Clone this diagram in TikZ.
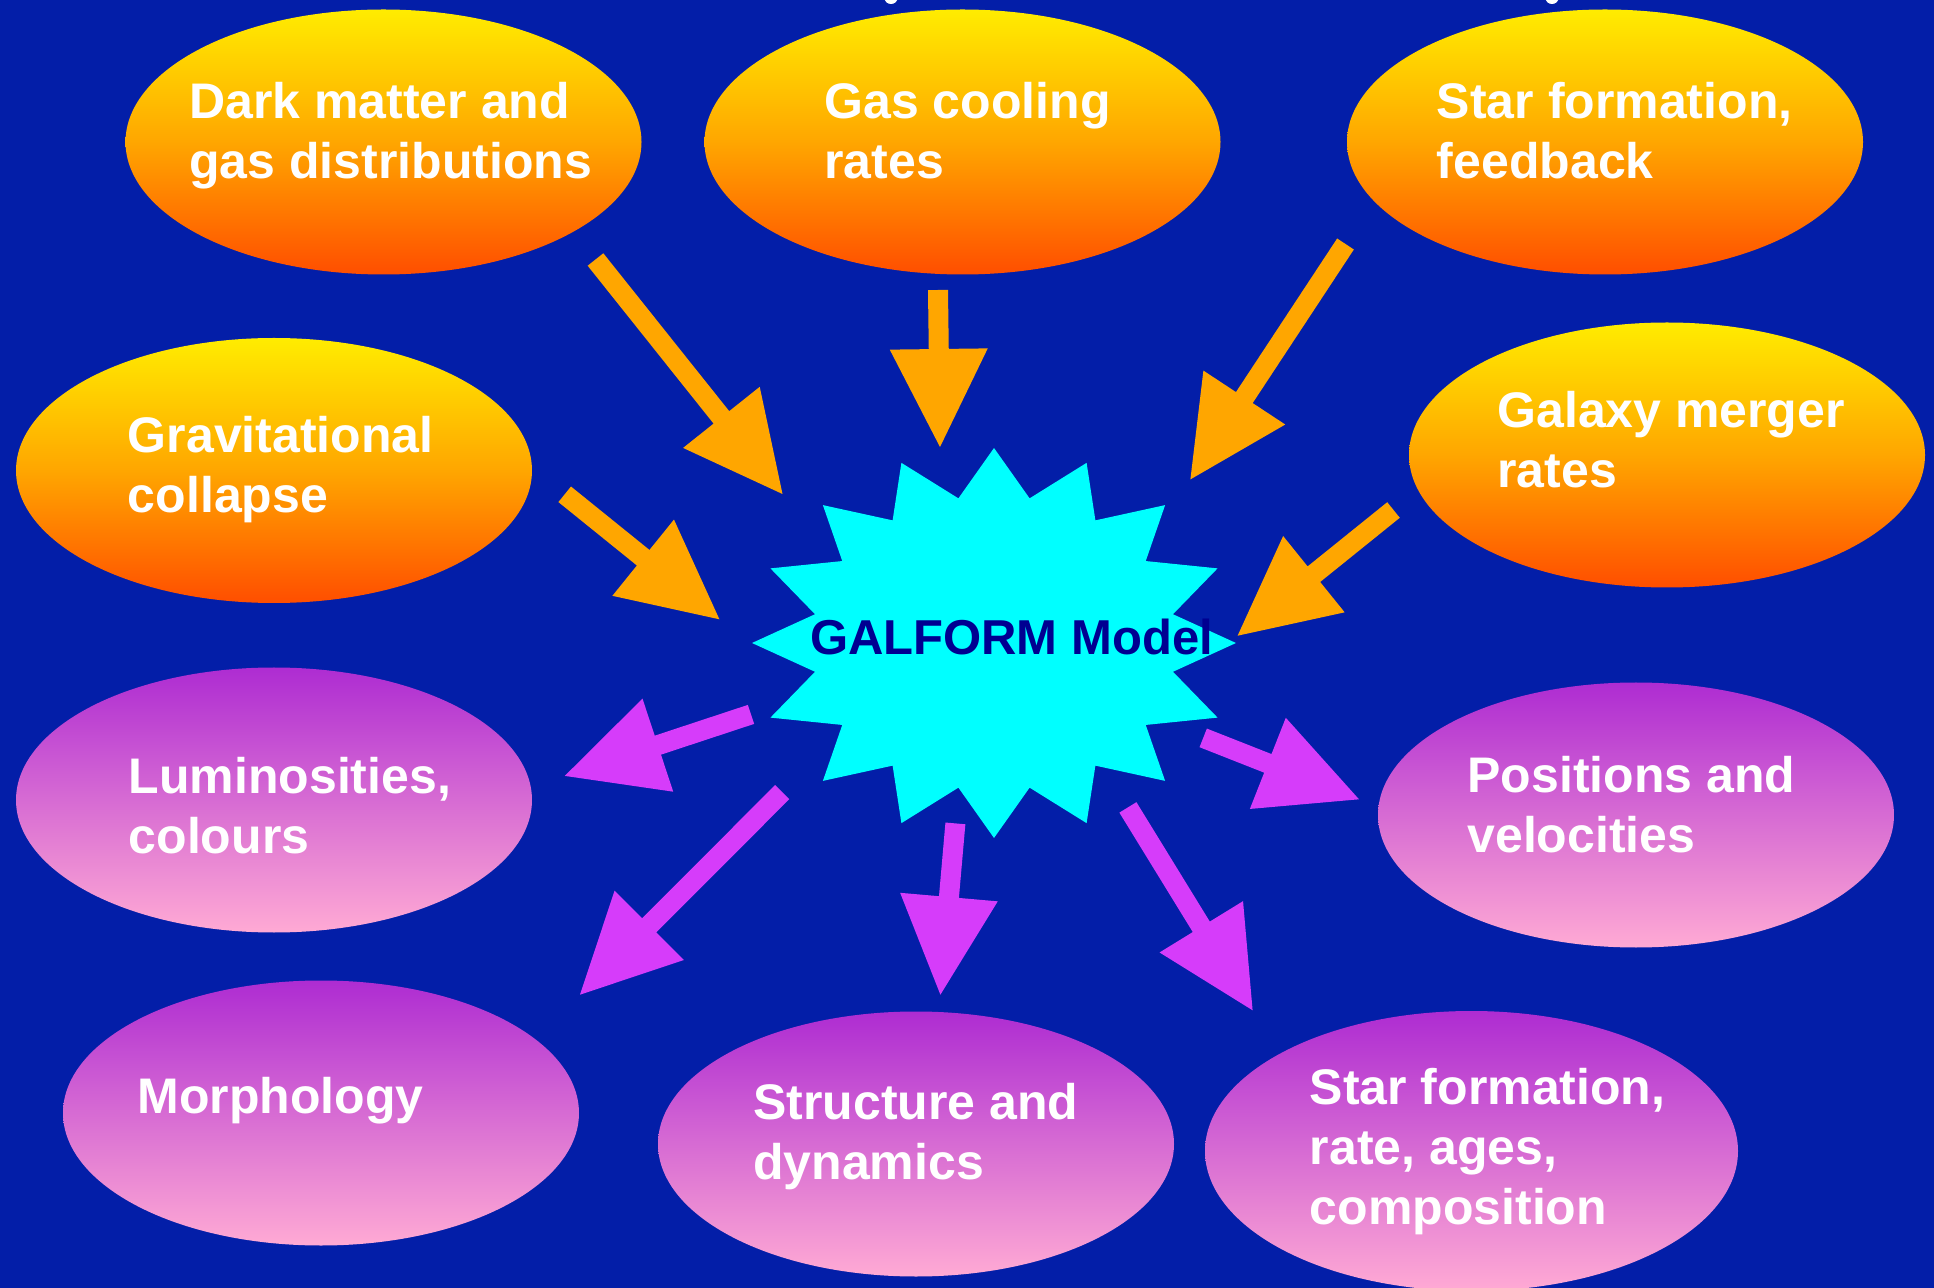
\documentclass[tikz,border=0pt]{standalone}
\usepackage{fontspec}
\setmainfont{Liberation Sans}
\usetikzlibrary{calc,shapes.geometric}

\definecolor{bgblue}{RGB}{3,30,168}
\definecolor{arrorange}{RGB}{255,166,0}
\definecolor{arrpurple}{RGB}{214,60,250}
\definecolor{oTop}{RGB}{255,236,0}
\definecolor{oMid}{RGB}{255,166,0}
\definecolor{oBot}{RGB}{255,78,0}
\definecolor{pTop}{RGB}{174,44,210}
\definecolor{pBot}{RGB}{255,170,212}
\definecolor{starcyan}{RGB}{0,255,255}
\definecolor{navy}{RGB}{0,0,145}

% block arrow: #1 fill style, #2 tail coordinate, #3 tip coordinate
\newcommand\blockarrow[3]{%
  \path ($(#3)!49pt!(#2)$) coordinate (#2-neck);
  \fill[#1] ($(#2)!5pt!90:(#3)$) -- ($(#2-neck)!5pt!90:(#3)$)
    -- ($(#2-neck)!24.5pt!90:(#3)$) -- (#3)
    -- ($(#2-neck)!24.5pt!-90:(#3)$) -- ($(#2-neck)!5pt!-90:(#3)$)
    -- ($(#2)!5pt!-90:(#3)$) -- cycle;
}

\tikzset{
  inblob/.style={ellipse, inner sep=0pt, minimum width=258pt, minimum height=132.5pt,
    top color=oTop, bottom color=oBot, middle color=oMid},
  outblob/.style={ellipse, inner sep=0pt, minimum width=258pt, minimum height=132.5pt,
    top color=pTop, bottom color=pBot},
  blobtext/.style={anchor=north west, inner sep=0pt, align=left, text=white,
    font=\fontsize{25}{30}\selectfont\bfseries},
  inarrow/.style={fill=arrorange},
  outarrow/.style={fill=arrpurple},
}

\begin{document}
\begin{tikzpicture}[x=0.5pt,y=-0.5pt]
\useasboundingbox (0,0) rectangle (1934,1288);
\clip (0,0) rectangle (1934,1288);
\fill[bgblue] (0,0) rectangle (1934,1288);

% tails of letters from the title line above the frame
\fill[white] (891,-2) ellipse (6.5 and 6);
\fill[white] (1552,-2) ellipse (6.5 and 6);

% input processes
\node[inblob] (dm) at (383.5,142) {};
\node[inblob] (gc) at (962.5,142) {};
\node[inblob] (sf) at (1605,142) {};
\node[inblob] (gr) at (274,470.5) {};
\node[inblob] (gm) at (1667,455) {};

% model outputs
\node[outblob] (lu) at (274,800) {};
\node[outblob] (po) at (1636,815) {};
\node[outblob] (mo) at (321,1113) {};
\node[outblob] (st) at (916,1144) {};
\node[outblob, minimum width=266.5pt, minimum height=140pt] (sr) at (1471.5,1151) {};

\node[blobtext] (dmt) at (189,76) {\strut Dark matter and\\gas distributions};
\node[blobtext] (gct) at (824,76) {\strut Gas cooling\\rates};
\node[blobtext] (sft) at (1436.5,76) {\strut Star formation,\\feedback};
\node[blobtext] (grt) at (127.5,410) {\strut Gravitational\\collapse};
\node[blobtext] (gmt) at (1497,385.6) {\strut Galaxy merger\\rates};
\node[blobtext] (lut) at (128.3,751) {\strut Luminosities,\\colours};
\node[blobtext] (pot) at (1467,750) {\strut Positions and\\velocities};
\node[blobtext] (mot) at (137,1071) {\strut Morphology};
\node[blobtext] (stt) at (752.8,1077.3) {\strut Structure and\\dynamics};
\node[blobtext] (srt) at (1309.4,1061.7) {\strut Star formation,\\rate, ages,\\composition};

% arrow end points
\coordinate (aDM) at (595.5,259.5); \coordinate (aDMtip) at (782.5,494);
\coordinate (aGC) at (938,290);     \coordinate (aGCtip) at (940,447);
\coordinate (aSF) at (1345.5,244);  \coordinate (aSFtip) at (1190.4,479.4);
\coordinate (aGR) at (564.7,494.3); \coordinate (aGRtip) at (719.4,619.3);
\coordinate (aGM) at (1393.5,510);  \coordinate (aGMtip) at (1237.6,635.7);
\coordinate (aLU) at (751,714.4);   \coordinate (aLUtip) at (564.8,775.9);
\coordinate (aMO) at (782.2,792.1); \coordinate (aMOtip) at (580,994.7);
\coordinate (aST) at (955.4,823.4); \coordinate (aSTtip) at (940.4,994.7);
\coordinate (aSR) at (1127.9,807.4);\coordinate (aSRtip) at (1252.6,1010.3);
\coordinate (aPO) at (1203.2,737.9);\coordinate (aPOtip) at (1359,799.3);

\blockarrow{inarrow}{aDM}{aDMtip}
\blockarrow{inarrow}{aGC}{aGCtip}
\blockarrow{inarrow}{aSF}{aSFtip}
\blockarrow{inarrow}{aGR}{aGRtip}
\blockarrow{inarrow}{aGM}{aGMtip}
\blockarrow{outarrow}{aLU}{aLUtip}
\blockarrow{outarrow}{aMO}{aMOtip}
\blockarrow{outarrow}{aST}{aSTtip}
\blockarrow{outarrow}{aSR}{aSRtip}
\blockarrow{outarrow}{aPO}{aPOtip}

% sixteen-pointed burst around the model
\begin{scope}[shift={(994,643)}]
  \fill[starcyan] (90:242 and 195)
    \foreach \k in {0,...,15} {
      -- ({78.75-22.5*\k}:182.5 and 147.5) -- ({67.5-22.5*\k}:242 and 195)
    } -- cycle;
\end{scope}
\node[anchor=base, inner sep=0pt, text=navy, font=\fontsize{24.5}{29}\selectfont\bfseries]
  (model) at (1011.5,655) {GALFORM Model};
\end{tikzpicture}
\end{document}
